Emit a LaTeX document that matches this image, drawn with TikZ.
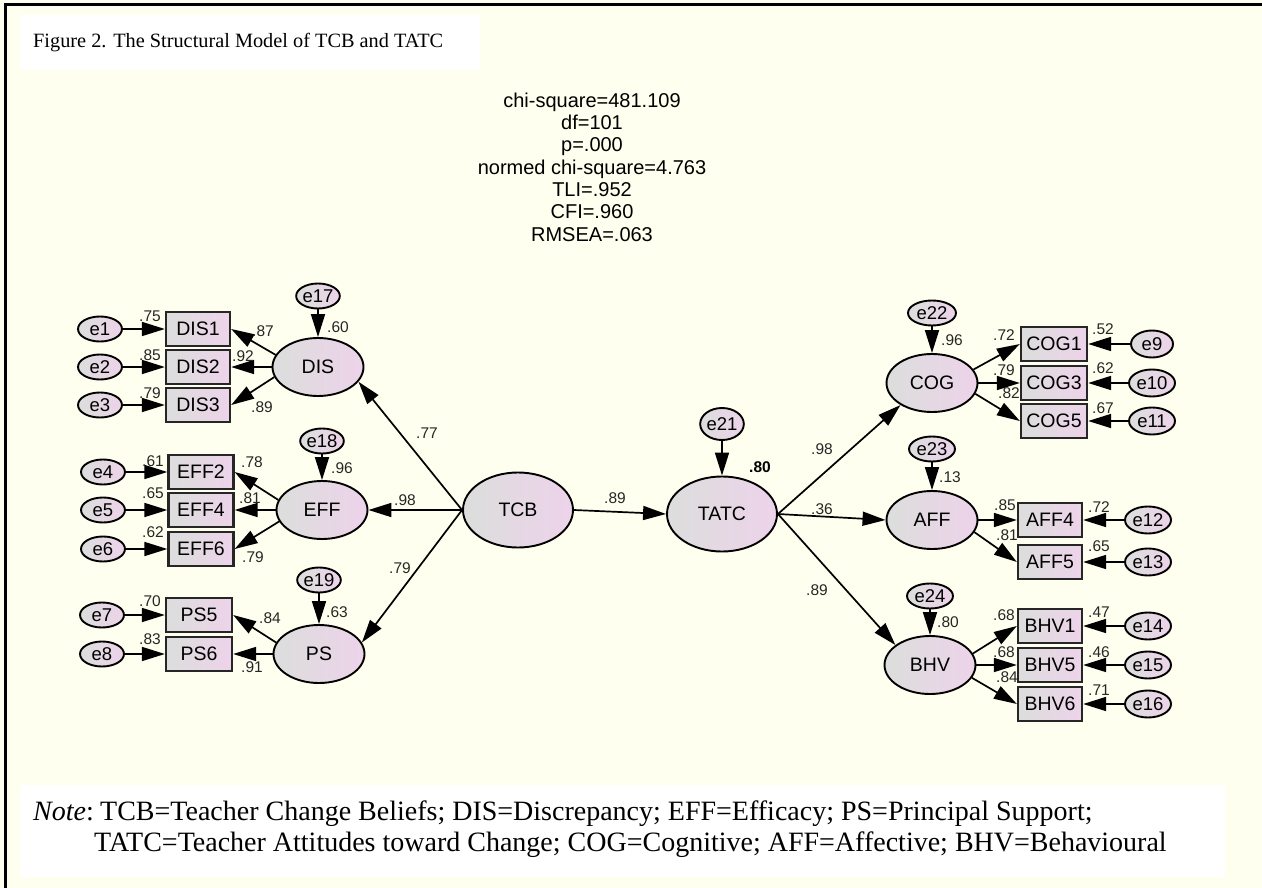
\documentclass[tikz,border=0pt]{standalone}
\usepackage{fontspec}
\setmainfont{Liberation Serif}
\setsansfont{Liberation Sans}
\usetikzlibrary{arrows.meta,shapes.geometric}
\definecolor{bgyellow}{HTML}{FEFFEE}
\definecolor{nodeL}{HTML}{DCDEDC}
\definecolor{nodeR}{HTML}{EDD3EA}
\begin{document}
\begin{tikzpicture}[x=1pt,y=-1pt,
  lat/.style={ellipse, draw=black, line width=1.9pt, left color=nodeL, right color=nodeR,
    inner sep=0pt, minimum width=91pt, minimum height=58pt, font=\sffamily\fontsize{19.5}{20}\selectfont},
  err/.style={ellipse, draw=black, line width=1.9pt, left color=nodeL, right color=nodeR,
    inner sep=0pt, minimum width=44pt, minimum height=25pt, font=\sffamily\fontsize{18.5}{18}\selectfont},
  obs/.style={rectangle, draw=black!85, line width=2.3pt, left color=nodeL, right color=nodeR,
    inner sep=0pt, minimum width=65pt, minimum height=34pt, font=\sffamily\fontsize{19.5}{20}\selectfont},
  arr/.style={line width=1.7pt, -{Triangle[length=23pt,width=14pt]}},
  lbl/.style={inner sep=0pt, font=\sffamily\fontsize{15.5}{15}\selectfont, text=black!85},
  titlefont/.style={inner sep=0pt, font=\fontsize{20.3}{24}\selectfont},
  notefont/.style={inner sep=0pt, font=\fontsize{28}{30}\selectfont}
]
\fill[bgyellow] (0,0) rectangle (1262,888);
\useasboundingbox (0,0) rectangle (1262,888);
\draw[line width=3pt] (5,888) -- (5,5) -- (1262,5);

% title
\fill[white] (20,15) rectangle (480,70);
\node[titlefont, anchor=west] (title) at (33,43) {Figure 2. The Structural Model of TCB and TATC};

% fit statistics
\node[align=center, inner sep=0pt, font=\sffamily\fontsize{20}{22.3}\selectfont] (stats) at (592,167)
 {chi-square=481.109\\df=101\\p=.000\\normed chi-square=4.763\\TLI=.952\\CFI=.960\\RMSEA=.063};

% latent variables
\node[lat] (DIS) at (318,367) {DIS};
\node[lat] (EFF) at (322,510) {EFF};
\node[lat] (PS) at (319,654) {PS};
\node[lat, minimum width=110pt, minimum height=75pt] (TCB) at (518,510) {TCB};
\node[lat, minimum width=110pt, minimum height=75pt] (TATC) at (722,514) {TATC};
\node[lat] (COG) at (932,383) {COG};
\node[lat] (AFF) at (932,520) {AFF};
\node[lat] (BHV) at (930,665) {BHV};

% observed variables
\node[obs, minimum width=64pt] (DIS1) at (198,329) {DIS1};
\node[obs, minimum width=64pt] (DIS2) at (198,367) {DIS2};
\node[obs, minimum width=64pt] (DIS3) at (198,405) {DIS3};
\node[obs] (EFF2) at (201,472) {EFF2};
\node[obs] (EFF4) at (201,510) {EFF4};
\node[obs] (EFF6) at (201,549) {EFF6};
\node[obs, minimum width=66pt] (PS5) at (199,615) {PS5};
\node[obs, minimum width=66pt] (PS6) at (199,654) {PS6};
\node[obs, minimum width=66pt] (COG1) at (1054,344) {COG1};
\node[obs, minimum width=66pt] (COG3) at (1054,383) {COG3};
\node[obs, minimum width=66pt] (COG5) at (1054,421) {COG5};
\node[obs, minimum width=64pt] (AFF4) at (1050,520) {AFF4};
\node[obs, minimum width=64pt] (AFF5) at (1050,562) {AFF5};
\node[obs, minimum width=64pt] (BHV1) at (1050,626) {BHV1};
\node[obs, minimum width=64pt] (BHV5) at (1050,665) {BHV5};
\node[obs, minimum width=64pt] (BHV6) at (1050,704) {BHV6};

% error terms
\node[err] (e1) at (100,329) {e1};
\node[err] (e2) at (100,367) {e2};
\node[err] (e3) at (100,405) {e3};
\node[err] (e4) at (103,472) {e4};
\node[err] (e5) at (103,510) {e5};
\node[err] (e6) at (103,549) {e6};
\node[err] (e7) at (102,615) {e7};
\node[err] (e8) at (102,654) {e8};
\node[err, minimum width=38pt] (e17) at (318,296) {e17};
\node[err, minimum width=38pt] (e18) at (322,441) {e18};
\node[err, minimum width=38pt] (e19) at (319,580) {e19};
\node[err, minimum width=42pt, minimum height=32pt] (e21) at (722,424) {e21};
\node[err, minimum width=48pt] (e22) at (932,313) {e22};
\node[err, minimum width=46pt] (e23) at (932,449) {e23};
\node[err, minimum width=46pt] (e24) at (930,596) {e24};
\node[err, minimum width=42pt, minimum height=27pt] (e9) at (1152,344) {e9};
\node[err, minimum width=46pt, minimum height=27pt] (e10) at (1152,383) {e10};
\node[err, minimum width=46pt, minimum height=27pt] (e11) at (1152,421) {e11};
\node[err, minimum width=46pt, minimum height=27pt] (e12) at (1148,520) {e12};
\node[err, minimum width=46pt, minimum height=27pt] (e13) at (1148,562) {e13};
\node[err, minimum width=46pt, minimum height=27pt] (e14) at (1148,626) {e14};
\node[err, minimum width=46pt, minimum height=27pt] (e15) at (1148,665) {e15};
\node[err, minimum width=46pt, minimum height=27pt] (e16) at (1148,704) {e16};

% paths: left
\draw[arr] (e1) -- (DIS1);
\draw[arr] (e2) -- (DIS2);
\draw[arr] (e3) -- (DIS3);
\draw[arr] (DIS.164) -- (DIS1.east);
\draw[arr] (DIS.west) -- (DIS2.east);
\draw[arr] (DIS.193) -- (DIS3.east);
\draw[arr] (e17) -- (DIS);
\draw[arr] (e4) -- (EFF2);
\draw[arr] (e5) -- (EFF4);
\draw[arr] (e6) -- (EFF6);
\draw[arr] (EFF.167) -- (EFF2.east);
\draw[arr] (EFF.west) -- (EFF4.east);
\draw[arr] (EFF.195) -- (EFF6.east);
\draw[arr] (e18) -- (EFF);
\draw[arr] (e7) -- (PS5);
\draw[arr] (e8) -- (PS6);
\draw[arr] (PS.165) -- (PS5.east);
\draw[arr] (PS.west) -- (PS6.east);
\draw[arr] (e19) -- (PS);

% paths: structural
\draw[arr] (TCB.west) -- (DIS.-20);
\draw[arr] (TCB.west) -- (EFF.east);
\draw[arr] (TCB.west) -- (PS.15);
\draw[arr] (TCB.east) -- (TATC.west);
\draw[arr] (e21) -- (TATC);
\draw[arr] (TATC.east) -- (COG.215);
\draw[arr] (TATC.east) -- (AFF.west);
\draw[arr] (TATC.east) -- (BHV.150);

% paths: right
\draw[arr] (e22) -- (COG);
\draw[arr] (COG.18) -- (COG1.west);
\draw[arr] (COG.east) -- (COG3.west);
\draw[arr] (COG.-14) -- (COG5.west);
\draw[arr] (e9) -- (COG1);
\draw[arr] (e10) -- (COG3);
\draw[arr] (e11) -- (COG5);
\draw[arr] (e23) -- (AFF);
\draw[arr] (AFF.east) -- (AFF4.west);
\draw[arr] (AFF.-16) -- (AFF5.west);
\draw[arr] (e12) -- (AFF4);
\draw[arr] (e13) -- (AFF5);
\draw[arr] (e24) -- (BHV);
\draw[arr] (BHV.15) -- (BHV1.west);
\draw[arr] (BHV.east) -- (BHV5.west);
\draw[arr] (BHV.-17) -- (BHV6.west);
\draw[arr] (e14) -- (BHV1);
\draw[arr] (e15) -- (BHV5);
\draw[arr] (e16) -- (BHV6);

% labels: left
\node[lbl] (l1) at (150,316) {.75};
\node[lbl] (l2) at (150,355) {.85};
\node[lbl] (l3) at (150,393) {.79};
\node[lbl] (l4) at (263,331) {.87};
\node[lbl] (l5) at (243,356) {.92};
\node[lbl] (l6) at (262,407) {.89};
\node[lbl] (l7) at (338,327) {.60};
\node[lbl] (l8) at (153,461) {.61};
\node[lbl] (l9) at (153,493) {.65};
\node[lbl] (l10) at (153,532) {.62};
\node[lbl] (l11) at (252,462) {.78};
\node[lbl] (l12) at (250,498) {.81};
\node[lbl] (l13) at (253,557) {.79};
\node[lbl] (l14) at (342,468) {.96};
\node[lbl] (l15) at (150,601) {.70};
\node[lbl] (l16) at (150,639) {.83};
\node[lbl] (l17) at (270,618) {.84};
\node[lbl] (l18) at (252,667) {.91};
\node[lbl] (l19) at (337,612) {.63};
% labels: centre
\node[lbl] (l20) at (427,433) {.77};
\node[lbl] (l21) at (405,500) {.98};
\node[lbl] (l22) at (400,568) {.79};
\node[lbl] (l23) at (615,498) {.89};
\node[lbl, font=\sffamily\bfseries\fontsize{15.5}{15}\selectfont, text=black] (l24) at (760,467) {.80};
\node[lbl] (l25) at (822,449) {.98};
\node[lbl] (l26) at (822,509) {.36};
\node[lbl] (l27) at (817,590) {.89};
% labels: right
\node[lbl] (l28) at (952,340) {.96};
\node[lbl] (l29) at (1004,335) {.72};
\node[lbl] (l30) at (1004,370) {.79};
\node[lbl] (l31) at (1009,393) {.82};
\node[lbl] (l32) at (1103,329) {.52};
\node[lbl] (l33) at (1103,368) {.62};
\node[lbl] (l34) at (1103,408) {.67};
\node[lbl] (l35) at (950,477) {.13};
\node[lbl] (l36) at (1005,505) {.85};
\node[lbl] (l37) at (1007,535) {.81};
\node[lbl] (l38) at (1099,507) {.72};
\node[lbl] (l39) at (1099,546) {.65};
\node[lbl] (l40) at (948,622) {.80};
\node[lbl] (l41) at (1004,615) {.68};
\node[lbl] (l42) at (1004,652) {.68};
\node[lbl] (l43) at (1007,677) {.84};
\node[lbl] (l44) at (1099,612) {.47};
\node[lbl] (l45) at (1099,652) {.46};
\node[lbl] (l46) at (1099,690) {.71};

% note
\fill[white] (20,785) rectangle (1225,877);
\node[notefont, anchor=base west] (notelbl) at (33,820) {\textit{Note}:};
\node[notefont, anchor=base west] (note1) at (100,820) {TCB=Teacher Change Beliefs; DIS=Discrepancy; EFF=Efficacy; PS=Principal Support;};
\node[notefont, anchor=base west] (note2) at (94,851) {TATC=Teacher Attitudes toward Change; COG=Cognitive; AFF=Affective; BHV=Behavioural};
\end{tikzpicture}
\end{document}
